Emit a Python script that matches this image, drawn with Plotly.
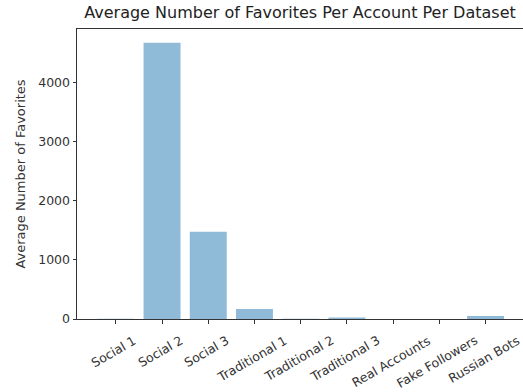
import plotly.graph_objects as go

categories = ["Social 1", "Social 2", "Social 3", "Traditional 1", "Traditional 2",
              "Traditional 3", "Real Accounts", "Fake Followers", "Russian Bots"]
avg_favorites = [3, 4680, 1478, 169, 4, 25, 0, 0, 50]
y_ticks = [0, 1000, 2000, 3000, 4000]

FONT = "DejaVu Sans"
TXT = "#333333"
x_idx = list(range(len(categories)))

fig = go.Figure()
fig.add_trace(go.Bar(
    x=x_idx, y=avg_favorites, width=0.8,
    marker=dict(color="rgba(31,119,180,0.5)", line=dict(width=0)),
    hoverinfo="skip",
))

for i, name in zip(x_idx, categories):
    fig.add_annotation(
        x=i, xref="x", y=0, yref="paper", yshift=-11, xshift=-2,
        text=name, textangle=-30, showarrow=False,
        xanchor="center", yanchor="top",
        font=dict(family=FONT, size=12.5, color=TXT),
    )

fig.update_layout(
    width=523, height=392,
    margin=dict(l=77, r=0, t=29, b=73, pad=0),
    plot_bgcolor="white", paper_bgcolor="white",
    showlegend=False,
    title=dict(text="Average Number of Favorites Per Account Per Dataset",
               x=0.5, xref="paper", xanchor="center",
               y=1 - 7 / 392, yref="container", yanchor="top",
               font=dict(family=FONT, size=16, color="#222222")),
    font=dict(family=FONT, size=12, color=TXT),
)
fig.update_xaxes(
    range=[-0.84, 8.81], tickmode="array", tickvals=x_idx, showticklabels=False,
    ticks="outside", ticklen=3.5, tickwidth=1, tickcolor="#333333",
    showline=True, linecolor="#333333", linewidth=1, mirror=True,
    showgrid=False, zeroline=False,
)
fig.update_yaxes(
    range=[0, 4914], tickmode="array", tickvals=y_ticks,
    ticktext=[str(v) for v in y_ticks],
    ticks="outside", ticklen=3.5, tickwidth=1, tickcolor="#333333",
    tickfont=dict(family=FONT, size=12.5, color=TXT),
    showline=True, linecolor="#333333", linewidth=1, mirror=False,
    showgrid=False, zeroline=False,
    title=dict(text="Average Number of Favorites", standoff=9,
               font=dict(family=FONT, size=13, color=TXT)),
)

fig.write_html("out.html")
